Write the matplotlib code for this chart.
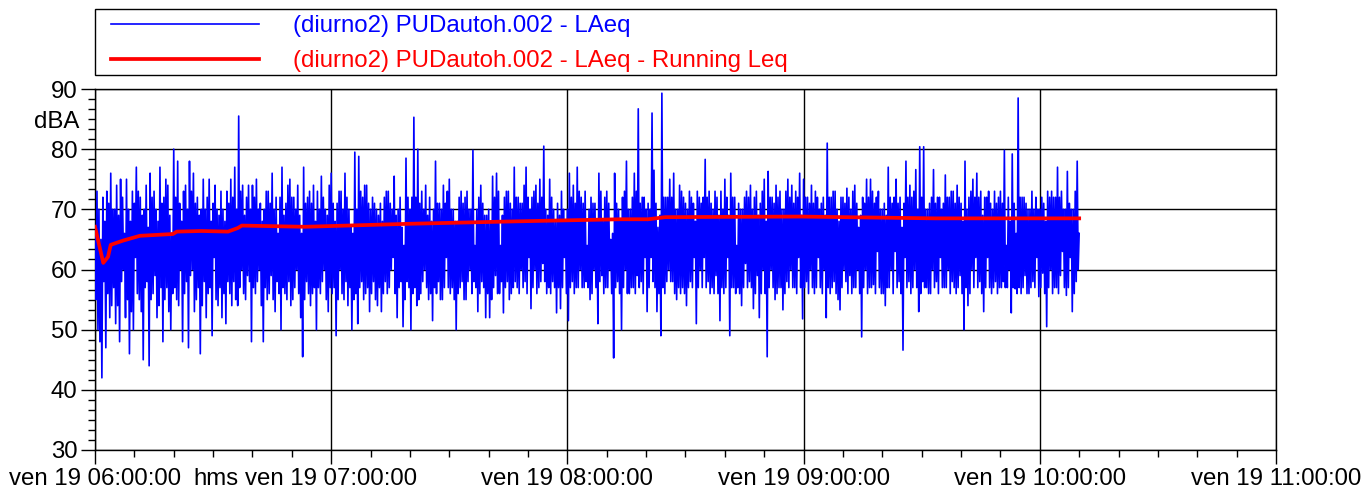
#!/usr/bin/env python3
"""
plot.py

LAeq time history (15 s samples) with its running Leq,
ven 19, 06:00 -> ~10:10. Writes out.png (1366x491).
"""

import matplotlib
matplotlib.use("Agg")
import matplotlib.pyplot as plt
from matplotlib.patches import Rectangle
from matplotlib.ticker import MultipleLocator

plt.rcParams["font.family"] = ["Liberation Sans", "DejaVu Sans"]

# sampling of the LAeq series
T0_HOUR = 6.0
STEP_MIN = 0.25

# LAeq values (dBA), one every 15 s from 06:00:00 (one row = 10 min)
LAEQ = [
    67, 55, 73, 50, 70, 48, 65, 42, 72, 58, 68, 47, 73, 56, 71, 52, 76, 54, 70, 57,
    70, 51, 74, 54, 69, 48, 75, 58, 72, 60, 66, 52, 75, 55, 70, 46, 68, 53, 73, 50,
    71, 62, 77, 56, 73, 55, 72, 53, 69, 45, 70, 57, 74, 58, 67, 44, 76, 55, 72, 56,
    73, 59, 70, 52, 68, 54, 77, 57, 71, 48, 72, 55, 75, 57, 74, 53, 69, 50, 66, 56,
    80, 57, 72, 55, 78, 54, 71, 60, 68, 48, 73, 56, 74, 58, 70, 47, 78, 59, 73, 60,
    76, 53, 71, 55, 72, 57, 69, 46, 70, 54, 75, 58, 70, 52, 72, 56, 75, 57, 68, 49,
    71, 62, 74, 55, 70, 54, 69, 57, 73, 52, 70, 56, 68, 51, 73, 58, 71, 56, 75, 54,
    72, 58, 77, 55, 70, 54, 85.5, 57, 73, 60, 74, 56, 69, 55, 72, 59, 74, 58, 70, 48,
    74, 57, 72, 56, 75, 58, 70, 60, 71, 54, 68, 48, 70, 57, 73, 55, 73, 56, 71, 59,
    76, 55, 70, 53, 72, 58, 66, 56, 72, 50, 77, 57, 69, 56, 71, 55, 74, 58, 75, 54,
    72, 55, 72, 57, 70, 60, 74, 56, 69, 52, 66, 45.5, 77, 55, 71, 58, 72, 56, 73, 54,
    71, 56, 74, 57, 68, 50, 73, 57, 70, 56, 75.5, 58, 72, 60, 70, 55, 69, 53, 74, 57,
    76, 56, 71, 57, 68, 49, 71, 55, 73, 60, 73, 56, 70, 55, 76, 58, 72, 54, 70, 57,
    67, 50, 66, 55, 79.5, 56, 70, 51, 78.8, 57, 73, 58, 72, 55, 74, 56, 74, 57, 71, 53,
    70, 56, 72, 58, 71, 55, 70, 54, 69, 57, 71, 53, 68, 56, 72, 58, 73, 56, 73, 57,
    71, 60, 70, 62, 75.5, 56, 69, 52, 70, 57, 72, 58, 67, 50.5, 64, 55, 78.5, 58, 72, 57,
    70, 50, 72, 56, 85.3, 57, 72, 54, 80, 55, 71, 56, 73, 58, 70, 60, 74, 57, 69, 55,
    72, 56, 68, 51.5, 70, 57, 78, 56, 71, 58, 71, 55, 70, 55, 74, 57, 71, 62, 73, 57,
    75, 56, 70, 57, 70, 55, 68, 50, 68, 56, 72, 57, 73, 58, 71, 55, 72, 55, 73, 58,
    70, 60, 70, 56, 79.8, 58, 64, 57, 70, 53, 72, 56, 74, 58, 71, 57, 69, 52, 69, 56,
    70, 52, 68, 55, 75.5, 57, 72, 59, 76, 56, 73, 56, 64, 58, 69, 52.8, 72, 57, 73, 58,
    73, 55, 71, 56, 70, 57, 77, 58, 72, 57, 72, 56, 71, 60, 71, 57, 74, 58, 77, 56,
    72, 62, 70, 53.5, 72, 57, 73, 60, 74, 56, 71, 57, 75, 58, 72, 61, 80.5, 58, 70, 56,
    69, 57, 75, 56, 72, 58, 70, 57, 68, 52.8, 71, 57, 69, 53.5, 73, 57, 70, 62, 68, 56,
    70, 51.5, 76, 57, 72, 58, 74, 56, 71, 57, 77, 57, 73, 60, 72, 57, 71, 57, 73, 58,
    64, 57, 70, 55, 72, 56, 71, 60, 71, 57, 68, 51, 76, 58, 73, 59, 68, 56, 72, 57,
    73, 57, 71, 60, 65, 56, 66, 45.3, 76, 57, 71, 58, 70, 56, 68, 50, 72, 57, 73, 60,
    78, 56, 70, 56, 70, 57, 72, 57, 76, 56, 73, 59, 86.7, 57, 71, 58, 72, 56, 72, 62,
    70, 53, 71, 57, 70, 62, 86, 58, 76.5, 57, 71, 53, 67, 56, 69, 49, 89.3, 57, 72, 56,
    72, 58, 72, 60, 75, 58, 72, 58, 76, 56, 70, 55, 70, 57, 74, 56, 73, 57, 72, 56,
    71, 54, 70, 57, 73, 58, 72, 57, 71, 62, 68, 51, 73, 57, 72, 60, 71, 57, 72, 62,
    78.3, 57, 72, 58, 73, 56, 71, 57, 70, 56, 73, 59, 72, 56, 69, 51.5, 73, 57, 70, 56,
    75, 57, 72, 62, 69, 49, 76, 57, 72, 57, 72, 56, 64, 57, 71, 56, 70, 54, 70, 57,
    72, 61, 73, 57, 72, 58, 74, 57, 70, 53.5, 72, 56, 73, 59, 69, 52, 71, 56, 73, 60,
    75, 56, 68, 45.5, 76.3, 57, 72, 60, 72, 57, 71, 55, 74, 56, 72, 57, 73, 57, 70, 53.3,
    70, 56, 73, 58, 75, 57, 72, 60, 74, 57, 71, 57, 73, 56, 72, 62, 76, 57, 69, 51.8,
    75, 57, 72, 58, 72, 56, 71, 60, 74, 57, 71, 56, 73, 57, 72, 62, 70, 57, 71, 56,
    72, 60, 69, 52, 81, 57, 72, 56, 72, 57, 73, 58, 73, 56, 70, 55, 68, 53.3, 72, 57,
    72, 60, 71, 58, 73.5, 56, 72, 59, 70, 56, 73, 57, 74, 57, 71, 60, 67, 56, 69, 48.8,
    72, 57, 71, 60, 75, 56, 72, 57, 75, 57, 73, 57.5, 71, 56, 72, 63, 73, 57, 70, 56,
    70, 56, 71, 54, 69, 57, 77, 57, 72, 60, 71, 56, 72, 63, 75, 57, 71, 58, 72, 56,
    67, 46.6, 71, 62, 78, 57, 72, 58, 74, 56, 72, 57, 73, 60, 76.6, 57, 70, 53, 80.4, 56,
    72, 58, 80.4, 57, 70, 57, 70, 56, 71, 56, 72, 60, 76.6, 57, 71, 58, 72, 56, 72, 62,
    70, 57, 71, 57, 75.7, 57, 72, 60, 72, 56, 73, 58, 73, 57, 71, 56, 74, 57, 72, 59,
    71, 56, 68, 50, 78, 57, 70, 54, 72, 56, 73, 60, 75, 57, 72, 62, 76, 57, 72, 58,
    73, 56, 69, 53, 72, 57, 72, 62, 73, 57, 71, 56, 70, 57, 73, 58, 71, 56, 72, 57,
    73, 57, 71, 58, 79.8, 57, 64, 57, 72, 60, 68, 52.8, 79.2, 57, 71, 56.8, 66, 56, 88.5, 57,
    72, 56, 72, 57, 72, 59, 71, 56, 70, 56, 70, 57, 73, 58, 70, 57, 72, 62, 70, 55.5,
    70, 57, 72, 59.4, 71, 56, 68, 50.5, 73, 57, 72, 60, 73, 56, 72, 57, 72, 57, 77, 56,
    72, 59, 73, 63, 70, 57, 70, 55.7, 76.3, 57, 71, 62, 70, 53, 70, 56, 73, 58, 78, 60,
    66,
]

# running Leq: minutes after 06:00 and value (dBA)
LEQ_T_MIN = [0, 2.1, 3.3, 4.0, 7.1, 11.4, 19.8, 20.8, 27, 33.8, 36.3, 37.3,
             53.3, 80, 106.7, 133.4, 140.5, 144.8, 179, 213.4, 250]
LEQ_VAL = [67.1, 61.1, 62.1, 64.1, 64.8, 65.6, 65.9, 66.3, 66.4, 66.3, 66.9, 67.3,
           67.1, 67.6, 68.0, 68.35, 68.35, 68.7, 68.8, 68.5, 68.5]

HOUR_TICKS = [6, 7, 8, 9, 10, 11]
HOUR_LABELS = ["ven 19 06:00:00", "ven 19 07:00:00", "ven 19 08:00:00",
               "ven 19 09:00:00", "ven 19 10:00:00", "ven 19 11:00:00"]
Y_TICKS = [30, 40, 50, 60, 70, 80, 90]

BLUE_LABEL = "(diurno2) PUDautoh.002 - LAeq"
RED_LABEL = "(diurno2) PUDautoh.002 - LAeq - Running Leq"

FS = 17.3


def main():
    t = [T0_HOUR + i * STEP_MIN / 60 for i in range(len(LAEQ))]
    t_leq = [T0_HOUR + m / 60 for m in LEQ_T_MIN]

    W, H = 1366, 491
    fig = plt.figure(figsize=(W / 100, H / 100), dpi=100)
    ax = fig.add_axes([95 / W, 1 - 450 / H, 1181 / W, 361 / H])

    ax.plot(t, LAEQ, color="#0000ff", lw=1.2, label=BLUE_LABEL, zorder=3)
    ax.plot(t_leq, LEQ_VAL, color="#ff0000", lw=2.7, label=RED_LABEL, zorder=4)

    ax.set_xlim(6, 11)
    ax.set_ylim(30, 90)
    ax.set_xticks(HOUR_TICKS)
    ax.set_xticklabels(HOUR_LABELS)
    ax.set_yticks(Y_TICKS)
    ax.xaxis.set_minor_locator(MultipleLocator(1 / 6))
    ax.yaxis.set_minor_locator(MultipleLocator(10 / 6))

    ax.tick_params(which="major", direction="out", length=10, width=1,
                   labelsize=FS, colors="black")
    ax.tick_params(which="minor", direction="out", length=5, width=1)
    ax.tick_params(axis="y", pad=2.5)
    ax.tick_params(axis="x", pad=3)

    ax.set_axisbelow(True)
    ax.grid(True, which="major", color="black", lw=1.0)
    for s in ax.spines.values():
        s.set_linewidth(1.0)
        s.set_color("black")

    # axis unit labels
    ax.annotate("hms", xy=(6 + 98 / 236.2, 0), xycoords=("data", "axes fraction"),
                xytext=(0, -13), textcoords="offset points",
                ha="left", va="top", fontsize=FS)
    ax.annotate("dBA", xy=(0, 84.5), xycoords=("axes fraction", "data"),
                xytext=(-11.5, 0), textcoords="offset points",
                ha="right", va="center", fontsize=FS)

    # legend box spans the plot width; entries placed inside it
    fig.add_artist(Rectangle((95 / W, 1 - 75 / H), 1181 / W, 66 / H,
                             transform=fig.transFigure, fill=False,
                             edgecolor="black", lw=1.0))
    leg = fig.legend(loc="upper left", bbox_to_anchor=(111 / W, 1 - 15 / H),
                     borderaxespad=0, borderpad=0, fontsize=FS,
                     handlelength=6.17, handletextpad=1.42,
                     labelspacing=0.55, frameon=False)
    for txt, col in zip(leg.get_texts(), ["#0000ff", "#ff0000"]):
        txt.set_color(col)

    fig.savefig("out.png", dpi=100)


if __name__ == "__main__":
    main()
